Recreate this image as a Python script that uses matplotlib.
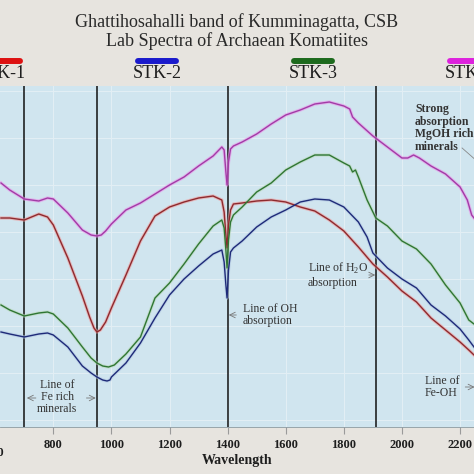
import numpy as np
import matplotlib
matplotlib.use("Agg")
import matplotlib.pyplot as plt
from matplotlib.lines import Line2D

plt.rcParams["font.family"] = ["Liberation Serif", "DejaVu Serif"]
plt.rcParams["mathtext.fontset"] = "custom"
plt.rcParams["mathtext.rm"] = "Liberation Serif"

# relative reflectance (arbitrary units, no y scale shown in the source)
wl_stk1 = [620, 650, 700, 750, 780, 800, 850, 900, 925, 940, 950, 962, 980, 1000, 1050, 1100,
           1150, 1200, 1250, 1300, 1350, 1380, 1388, 1394, 1398, 1403, 1410, 1420, 1450, 1500,
           1550, 1600, 1650, 1700, 1750, 1800, 1850, 1900, 1950, 2000, 2050, 2100, 2150, 2200,
           2230, 2248]
refl_stk1 = [209, 209, 207, 213, 210, 202, 169, 131, 110, 99, 95, 97, 105, 119, 152, 186,
             211, 220, 225, 229, 231, 227, 215, 192, 179, 202, 217, 223, 224, 226,
             227, 225, 220, 216, 207, 196, 180, 163, 150, 136, 125, 109, 97, 85,
             77, 72]

wl_stk2 = [620, 650, 700, 750, 780, 800, 850, 900, 930, 950, 970, 985, 995, 1000, 1050, 1100,
           1150, 1200, 1250, 1300, 1350, 1380, 1388, 1394, 1398, 1403, 1410, 1420, 1450, 1500,
           1550, 1600, 1650, 1700, 1750, 1800, 1850, 1880, 1900, 1950, 2000, 2050, 2100, 2150,
           2200, 2230, 2248]
refl_stk2 = [95, 93, 90, 93, 94, 92, 80, 61, 54, 50, 47, 46, 47, 50, 64, 84,
             109, 132, 148, 161, 173, 177, 165, 142, 129, 157, 175, 179, 186, 200,
             210, 217, 225, 228, 227, 220, 205, 190, 174, 159, 148, 139, 122, 111,
             98, 87, 80]

wl_stk3 = [620, 650, 700, 750, 780, 800, 850, 900, 930, 950, 970, 990, 1010, 1050, 1100, 1150,
           1200, 1250, 1300, 1350, 1380, 1388, 1394, 1398, 1403, 1410, 1420, 1450, 1500, 1550,
           1600, 1650, 1700, 1750, 1800, 1820, 1830, 1840, 1850, 1880, 1900, 1910, 1950, 2000,
           2050, 2100, 2150, 2200, 2230, 2248]
refl_stk3 = [122, 117, 111, 114, 115, 113, 99, 80, 69, 64, 61, 60, 62, 73, 90, 129,
             144, 163, 183, 201, 207, 199, 177, 159, 187, 205, 212, 220, 235, 244,
             257, 265, 272, 272, 264, 261, 255, 257, 250, 227, 215, 209, 201, 186,
             178, 163, 142, 124, 107, 103]

wl_stk4 = [620, 650, 700, 750, 780, 800, 850, 900, 930, 950, 965, 980, 1000, 1050, 1100, 1150,
           1200, 1250, 1300, 1350, 1380, 1388, 1394, 1398, 1403, 1410, 1420, 1450, 1500, 1550,
           1600, 1650, 1700, 1750, 1800, 1820, 1830, 1850, 1900, 1950, 2000, 2020, 2040, 2060,
           2100, 2150, 2200, 2225, 2240, 2248]
refl_stk4 = [244, 237, 228, 226, 229, 228, 214, 197, 192, 191, 192, 196, 203, 217, 224, 233,
             242, 250, 261, 271, 280, 277, 255, 242, 265, 278, 281, 285, 293, 303,
             312, 317, 323, 325, 321, 318, 310, 304, 291, 280, 269, 269, 272, 269,
             261, 253, 240, 227, 212, 209]

series = [
    ("STK-1", wl_stk1, refl_stk1, "#8e2a2e", "#f09a9a", "#dd1111"),
    ("STK-2", wl_stk2, refl_stk2, "#1e2a78", "#b0c6e2", "#1a1acc"),
    ("STK-3", wl_stk3, refl_stk3, "#2f7634", "#b8d8b8", "#1d6a1d"),
    ("STK-4", wl_stk4, refl_stk4, "#a23ca6", "#ea92ea", "#dd22dd"),
]

feature_lines = [700, 950, 1400, 1910]
xticks = [800, 1000, 1200, 1400, 1600, 1800, 2000, 2200]
ygrid = [7, 54, 101, 148, 195, 242, 289, 336]

W = 474.0
fig = plt.figure(figsize=(4.74, 4.74), dpi=100, facecolor="#e7e4df")
ax = fig.add_axes([0, 1 - 427 / W, 1, 341 / W])
ax.set_facecolor("#d0e5ef")
ax.set_xlim(616.5, 2248)
ax.set_ylim(0, 341)

ax.set_xticks(xticks)
ax.set_yticks(ygrid)
ax.grid(True, color="#e3eff5", lw=0.7)
ax.tick_params(axis="x", direction="out", length=5, width=0.8, color="#9a9a9a", pad=3.5,
               labelsize=9, labelcolor="#1e1e1e")
for lab in ax.get_xticklabels():
    lab.set_fontweight("bold")
ax.tick_params(axis="y", left=False, labelleft=False)
for s in ["top", "left", "right"]:
    ax.spines[s].set_visible(False)
ax.spines["bottom"].set_color("#8a9aa2")
ax.spines["bottom"].set_linewidth(0.6)

# cut-off 600 label at the left edge
ax.text(600, -0.06, "600", transform=ax.get_xaxis_transform(), ha="center", va="top",
        fontsize=9, fontweight="bold", color="#1e1e1e", clip_on=False)

for x in feature_lines:
    ax.axvline(x, color="#111111", lw=1.1, zorder=2)

for name, wl, refl, col, halo, _ in series:
    ax.plot(wl, refl, color=halo, lw=2.4, alpha=0.6, solid_joinstyle="round", zorder=3)
    ax.plot(wl, refl, color=col, lw=1.0, solid_joinstyle="round", zorder=4)

ax.set_xlabel("Wavelength", fontsize=10, fontweight="bold", color="#1e1e1e", labelpad=2)

# annotations
txt_kw = dict(fontsize=8.5, color="#333333", linespacing=1.05, zorder=5)
ax.text(2045, 299, "Strong\nabsorption\nMgOH rich\nminerals", ha="left", va="center",
        fontweight="bold", **txt_kw)
ax.text(1677, 152, "Line of H$_2$O\nabsorption", ha="left", va="center", **txt_kw)
ax.text(1453, 112, "Line of OH\nabsorption", ha="left", va="center", **txt_kw)
ax.text(813, 30, "Line of\nFe rich\nminerals", ha="center", va="center", **txt_kw)
ax.text(2079, 40, "Line of\nFe-OH", ha="left", va="center", **txt_kw)

arr = dict(arrowstyle="->", color="#777777", lw=0.6, shrinkA=0, shrinkB=0)
ax.annotate("", xy=(709, 29), xytext=(740, 29), arrowprops=arr)
ax.annotate("", xy=(946, 29), xytext=(914, 29), arrowprops=arr)
ax.annotate("", xy=(1404, 112), xytext=(1430, 112), arrowprops=arr)
ax.annotate("", xy=(1908, 152), xytext=(1886, 152), arrowprops=arr)
ax.annotate("", xy=(2250, 40), xytext=(2218, 40), arrowprops=arr, annotation_clip=False)
ax.plot([2207, 2250], [279, 268], color="#888888", lw=0.6, zorder=5, clip_on=False)

# title
fig.text(237 / W, 1 - 22 / W, "Ghattihosahalli band of Kumminagatta, CSB", ha="center",
         va="center", fontsize=13, color="#2a2a2a")
fig.text(237 / W, 1 - 41 / W, "Lab Spectra of Archaean Komatiites", ha="center",
         va="center", fontsize=13, color="#2a2a2a")

# legend row across the top
leg_x = [1, 157, 313, 469]
for (name, wl, refl, col, halo, barcol), cx in zip(series, leg_x):
    fig.add_artist(Line2D([(cx - 19) / W, (cx + 19) / W], [1 - 61 / W, 1 - 61 / W],
                          color=barcol, lw=4.3, solid_capstyle="round"))
    fig.text(cx / W, 1 - 73.5 / W, name, ha="center", va="center", fontsize=13,
             color="#1e1e1e")

fig.savefig("out.png", dpi=100, facecolor=fig.get_facecolor())
